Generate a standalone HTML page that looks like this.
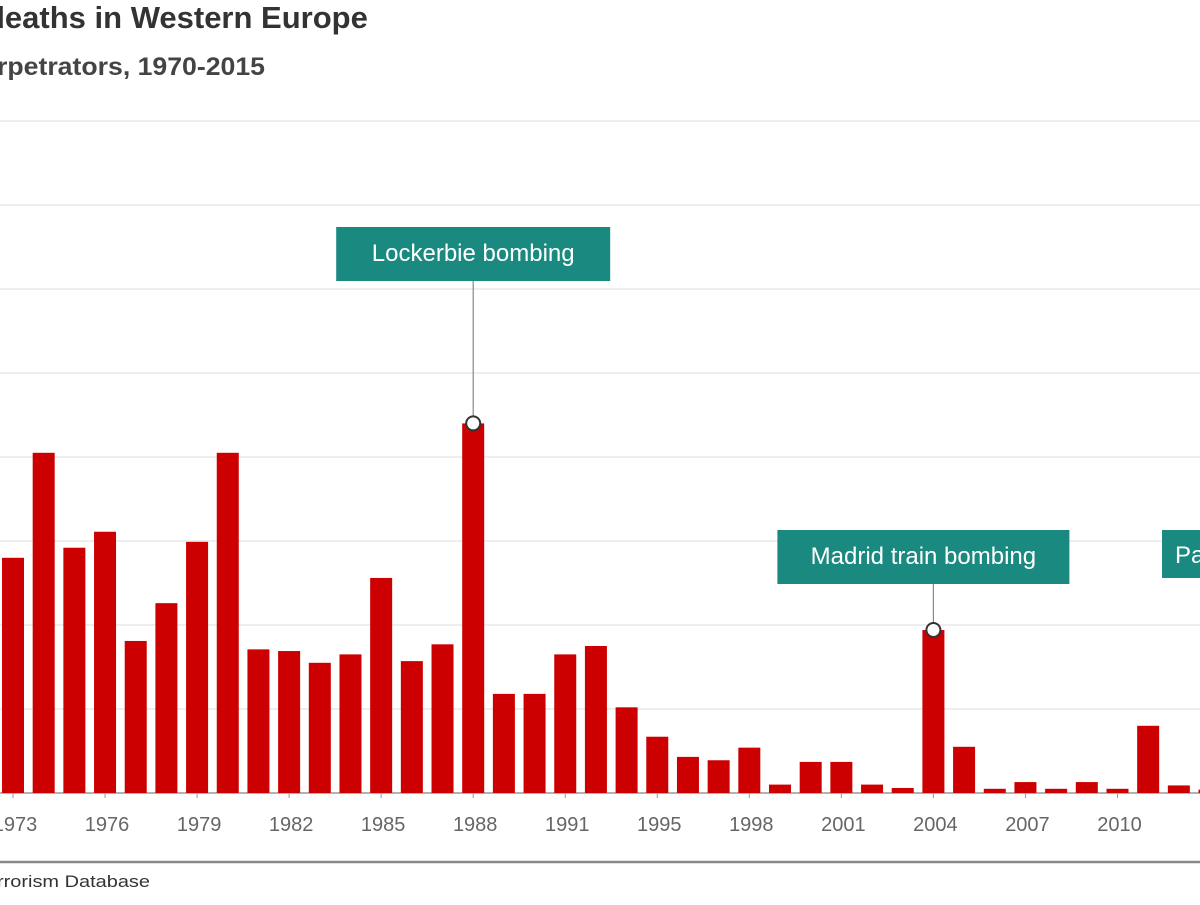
<!DOCTYPE html>
<html><head><meta charset="utf-8"><style>
body{margin:0;width:1200px;height:900px;background:#fff;overflow:hidden;font-family:"Liberation Sans",Arial,sans-serif}
</style></head><body>
<svg id="c" width="1200" height="900" xmlns="http://www.w3.org/2000/svg">
<text x="-14" y="28" font-size="31" font-weight="bold" fill="#333">deaths in Western Europe</text>
<text x="-3" y="75" font-size="25" font-weight="bold" fill="#444" textLength="268" lengthAdjust="spacingAndGlyphs">rpetrators, 1970-2015</text>
<g id="grid"></g><g id="bars"></g><g id="xaxis"></g><g id="ann"></g>
<line x1="0" y1="862" x2="1200" y2="862" stroke="#888" stroke-width="2.5"/>
<text x="-3" y="887" font-size="17" fill="#333" textLength="153" lengthAdjust="spacingAndGlyphs">rrorism Database</text>
</svg>
<script>
const years=[1973,1974,1975,1976,1977,1978,1979,1980,1981,1982,1983,1984,1985,1986,1987,1988,1989,1990,1991,1992,1994,1995,1996,1997,1998,1999,2000,2001,2002,2003,2004,2005,2006,2007,2008,2009,2010,2011,2012,2013];
const deaths=[280,405,292,311,181,226,299,405,171,169,155,165,256,157,177,440,118,118,165,175,102,67,43,39,54,10,37,37,10,6,194,55,5,13,5,13,5,80,9,4];
const tickYears=[1973,1976,1979,1982,1985,1988,1991,1995,1998,2001,2004,2007,2010];
const gridVals=[0,100,200,300,400,500,600,700,800];
const notes=[{year:1988,label:"Lockerbie bombing",y:254,w:274,dx:0},{year:2004,label:"Madrid train bombing",y:557,w:292,dx:-10}];
const NS="http://www.w3.org/2000/svg";
const base=793,pxPer=0.84;
const X=i=>13+i*30.68;
const Y=v=>base-v*pxPer;
function mk(t,a,p){const e=document.createElementNS(NS,t);for(const k in a)e.setAttribute(k,a[k]);p.appendChild(e);return e;}
const g=document.getElementById('grid');
gridVals.forEach(v=>{const l=mk('line',{x1:0,x2:1200,y1:Y(v),y2:Y(v),stroke:v==0?'#999':'#e3e3e3','stroke-width':v==0?1.5:1.2},g);

});
const b=document.getElementById('bars');
deaths.forEach((d,i)=>{const r=mk('rect',{x:X(i)-11,y:Y(d),width:22,height:base-Y(d),fill:'#cc0000'},b);

});
const xa=document.getElementById('xaxis');
tickYears.forEach(y=>{const i=years.indexOf(y);
const t=mk('line',{x1:X(i),x2:X(i),y1:base,y2:base+5,stroke:'#999'},xa);


const tx=mk('text',{x:X(i)+2,y:base+38,'text-anchor':'middle','font-size':20,fill:'#666'},xa);tx.textContent=y;

});
const an=document.getElementById('ann');
notes.forEach(n=>{const i=years.indexOf(n.year);const cx=X(i),cy=Y(deaths[i]);const bx=cx+n.dx;
const l=mk('line',{x1:cx,x2:cx,y1:n.y+25,y2:cy,stroke:'#888','stroke-width':1.2},an);


const c=mk('circle',{cx:cx,cy:cy,r:7,fill:'#fff',stroke:'#333','stroke-width':2},an);


const r=mk('rect',{x:bx-n.w/2,y:n.y-27,width:n.w,height:54,fill:'#1a8a80'},an);


const t=mk('text',{x:bx,y:n.y+7,'text-anchor':'middle','font-size':24,fill:'#fff'},an);t.textContent=n.label;

});
const pr=mk('rect',{x:1162,y:530,width:60,height:48,fill:'#1a8a80'},an);


const pt=mk('text',{x:1175,y:563,'font-size':24,fill:'#fff'},an);pt.textContent="Pa";


</script>
</body></html>
